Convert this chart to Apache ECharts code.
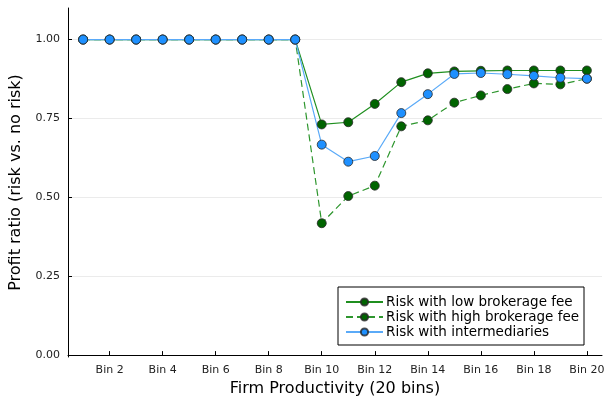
<!DOCTYPE html>
<html>
<head>
<meta charset="utf-8">
<script src="https://cdn.jsdelivr.net/npm/echarts@6/dist/echarts.min.js"></script>
<style>
  html, body { margin: 0; padding: 0; background: #fff; }
  #chart { width: 608px; height: 398px; }
</style>
</head>
<body>
<div id="chart"></div>
<script>
// bins 1..20
const bins = [1, 2, 3, 4, 5, 6, 7, 8, 9, 10, 11, 12, 13, 14, 15, 16, 17, 18, 19, 20];
const lowFee = [1, 1, 1, 1, 1, 1, 1, 1, 1, 0.731, 0.738, 0.796, 0.865, 0.893, 0.899, 0.901, 0.902, 0.902, 0.902, 0.902];
const highFee = [1, 1, 1, 1, 1, 1, 1, 1, 1, 0.418, 0.504, 0.537, 0.725, 0.744, 0.800, 0.823, 0.843, 0.861, 0.858, 0.876];
const intermediaries = [1, 1, 1, 1, 1, 1, 1, 1, 1, 0.667, 0.613, 0.631, 0.767, 0.827, 0.891, 0.894, 0.890, 0.885, 0.879, 0.876];
const xTicks = [2, 4, 6, 8, 10, 12, 14, 16, 18, 20];
const yTicks = [0, 0.25, 0.5, 0.75, 1.0];

function pairs(vals) {
  return bins.map((b, i) => [b, vals[i]]);
}

let myChart = echarts.init(document.getElementById("chart")),
  option;
const font = "DejaVu Sans";

function lineSeries(name, vals, lineColor, fill, dashed) {
  return {
    name: name,
    type: "line",
    data: pairs(vals),
    symbol: "circle",
    symbolSize: 9,
    animation: false,
    lineStyle: { color: lineColor, width: 1.2, type: dashed ? [7, 4] : "solid" },
    itemStyle: { color: fill, borderColor: "rgba(40,40,40,0.8)", borderWidth: 1 },
    emphasis: { disabled: true }
  };
}

option = {
  animation: false,
  grid: { left: 68, right: 6, top: 8, bottom: 41, outerBoundsMode: "none", containLabel: false },
  textStyle: { fontFamily: font },
  legend: {
    left: 338,
    top: 287,
    orient: "vertical",
    padding: [8, 5, 6, 7],
    itemGap: 1,
    itemWidth: 37,
    itemHeight: 9,
    borderColor: "#000",
    borderWidth: 1,
    textStyle: { fontFamily: font, fontSize: 13.5, lineHeight: 14, color: "#000", padding: [0, 0, 0, -2] },
    data: ["Risk with low brokerage fee", "Risk with high brokerage fee", "Risk with intermediaries"]
  },
  xAxis: {
    type: "value",
    min: 0.43,
    max: 20.57,
    name: "Firm Productivity (20 bins)",
    nameLocation: "middle",
    nameGap: 23,
    nameTextStyle: { fontFamily: font, fontSize: 16, color: "#000" },
    axisLine: { lineStyle: { color: "#000", width: 1 } },
    axisTick: { inside: true, length: 4, customValues: xTicks, lineStyle: { color: "#000" } },
    axisLabel: {
      customValues: xTicks,
      formatter: (v) => "Bin " + v,
      fontFamily: font,
      fontSize: 11,
      color: "#222",
      margin: 8
    },
    splitLine: { show: false }
  },
  yAxis: {
    type: "value",
    min: -0.006,
    max: 1.1,
    name: "Profit ratio (risk vs. no risk)",
    nameLocation: "middle",
    nameGap: 44,
    nameTextStyle: { fontFamily: font, fontSize: 16, color: "#000" },
    axisLine: { show: true, lineStyle: { color: "#000", width: 1 } },
    axisTick: { show: true, inside: true, length: 4, customValues: yTicks, lineStyle: { color: "#000" } },
    axisLabel: {
      customValues: yTicks,
      formatter: (v) => v.toFixed(2),
      fontFamily: font,
      fontSize: 11,
      color: "#222",
      margin: 8
    },
    splitLine: { show: true, lineStyle: { color: "rgba(0,0,0,0.08)", width: 1 } }
  },
  series: [
    lineSeries("Risk with low brokerage fee", lowFee, "#1f8f1f", "#006400", false),
    lineSeries("Risk with high brokerage fee", highFee, "#2e962e", "#006400", true),
    lineSeries("Risk with intermediaries", intermediaries, "#5aaaf8", "#1E90FF", false)
  ]
};

if (option && typeof option === "object") myChart.setOption(option);
window.addEventListener("resize", function () {
  myChart.resize();
});
</script>
</body>
</html>
